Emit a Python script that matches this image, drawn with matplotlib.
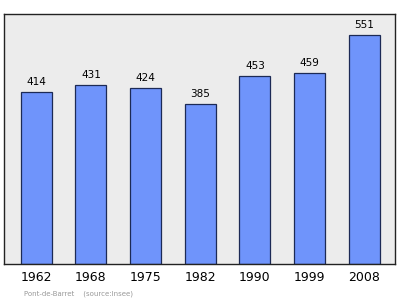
import matplotlib
matplotlib.use("Agg")
import matplotlib.pyplot as plt

years = ["1962", "1968", "1975", "1982", "1990", "1999", "2008"]
population = [414, 431, 424, 385, 453, 459, 551]

fig = plt.figure(figsize=(4.0, 2.99), dpi=100)
ax = fig.add_axes([0.01, 0.117, 0.977, 0.836])
ax.set_facecolor("#ececec")
x = list(range(len(years)))
ax.bar(x, population, width=0.57, color="#6f94fb", edgecolor="#1c2a55", linewidth=0.9, zorder=2)
for xi, v in zip(x, population):
    ax.text(xi, v + 12, str(v), ha="center", va="bottom", fontsize=7.5, color="black")
ax.set_xlim(-0.59, 6.56)
ax.set_ylim(0, 601)
ax.set_yticks([])
ax.set_xticks(x)
ax.set_xticklabels(years, fontsize=9)
ax.tick_params(axis="x", length=0, pad=5)
for s in ax.spines.values():
    s.set_color("#222222")
    s.set_linewidth(1.0)
fig.text(0.06, 0.008, "Pont-de-Barret    (source:Insee)", fontsize=5, color="#999999", ha="left", va="bottom")
fig.savefig("out.png", dpi=100)
